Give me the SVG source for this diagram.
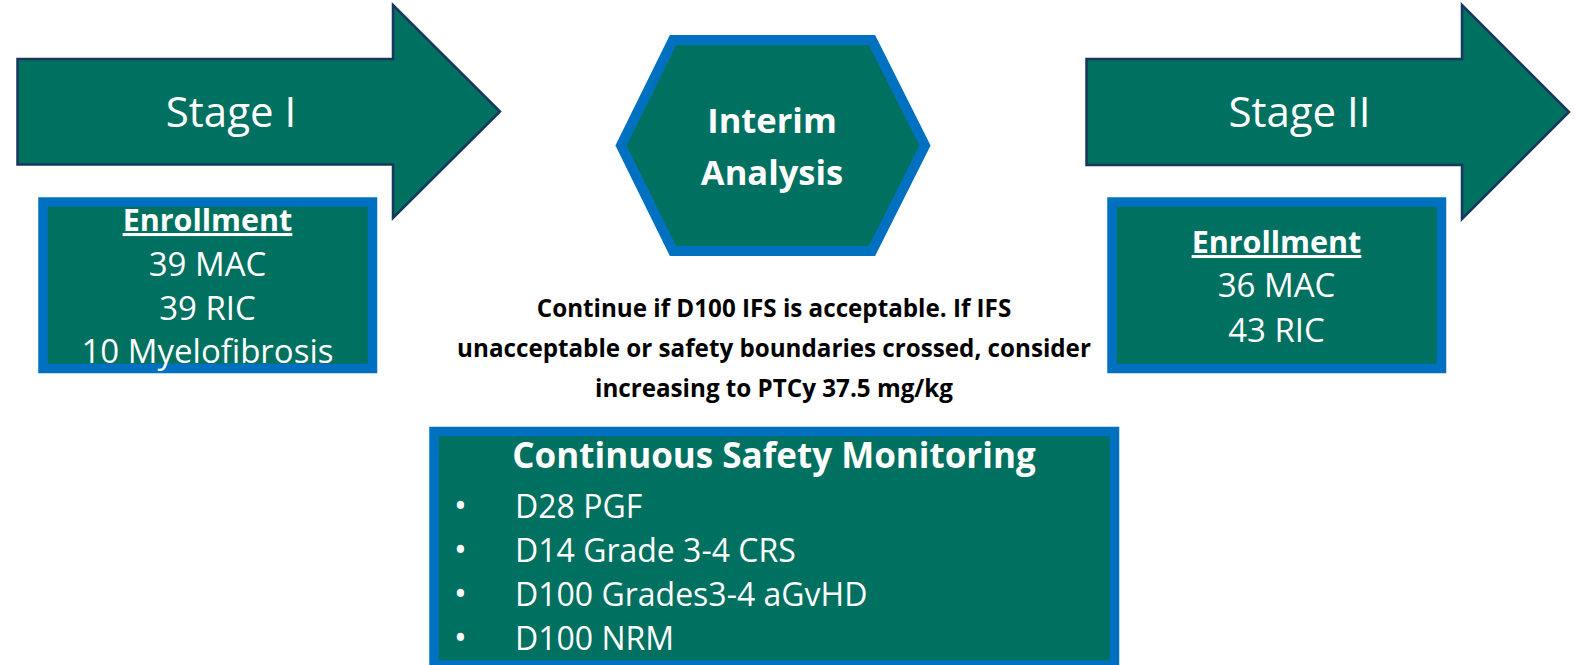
<svg xmlns="http://www.w3.org/2000/svg" width="1575" height="665" viewBox="0 0 1575 665">
<style>
.arrow{fill:#007060;stroke:#17375E;stroke-width:2.5;stroke-linejoin:miter}
.box{fill:#007060;stroke:#0070C0;stroke-width:9.5}
.hex{fill:#007060;stroke:#0070C0;stroke-width:10;stroke-linejoin:miter}
.t{font-family:"Open Sans","Liberation Sans",sans-serif;fill:#ffffff}
.b{font-weight:bold}
.c{text-anchor:middle}
.li{font-family:"Open Sans","Liberation Sans",sans-serif;fill:#ffffff;font-size:32px}
.bul{font-size:34px}
.note{font-family:"Open Sans","Liberation Sans",sans-serif;font-weight:bold;font-size:24.2px;fill:#000000;text-anchor:middle}
</style>
<rect x="0" y="0" width="1575" height="665" fill="#ffffff"/>
<g id="stage1">
<path class="arrow" d="M17.5,59 L393,59 L393,5 L500,111.5 L393,218 L393,164.5 L17.5,164.5 Z"/>
<text class="t c" x="231" y="127" font-size="42">Stage I</text>
</g>
<g id="enroll1">
<rect class="box" x="43" y="202" width="329.5" height="166.5"/>
<text class="t b c" x="207.5" y="231" font-size="30.5" text-decoration="underline">Enrollment</text>
<text class="t c" x="207.5" y="276" font-size="33">39 MAC</text>
<text class="t c" x="207.5" y="320" font-size="33">39 RIC</text>
<text class="t c" x="207.5" y="363" font-size="33">10 Myelofibrosis</text>
</g>
<g id="interim">
<path class="hex" d="M673,40 L872,40 L925,145.5 L872,251 L673,251 L621,145.5 Z"/>
<text class="t b c" x="772" y="133" font-size="34.5">Interim</text>
<text class="t b c" x="772" y="185" font-size="34.5">Analysis</text>
</g>
<g id="stage2">
<path class="arrow" d="M1086.5,59 L1462,59 L1462,5 L1569,112 L1462,219 L1462,165 L1086.5,165 Z"/>
<text class="t c" x="1299.5" y="127" font-size="42">Stage II</text>
</g>
<g id="enroll2">
<rect class="box" x="1112" y="202" width="329.5" height="166.5"/>
<text class="t b c" x="1276.5" y="253" font-size="30.5" text-decoration="underline">Enrollment</text>
<text class="t c" x="1276.5" y="297" font-size="33">36 MAC</text>
<text class="t c" x="1276.5" y="342" font-size="33">43 RIC</text>
</g>
<g id="decision">
<text class="note" x="774" y="317">Continue if D100 IFS is acceptable. If IFS</text>
<text class="note" x="774" y="357">unacceptable or safety boundaries crossed, consider</text>
<text class="note" x="774" y="397">increasing to PTCy 37.5 mg/kg</text>
</g>
<g id="safety">
<rect class="box" x="434" y="431.5" width="680.5" height="233.5"/>
<text class="t b c" x="774" y="468" font-size="35">Continuous Safety Monitoring</text>
<text class="li" y="518"><tspan class="bul" x="454">•</tspan><tspan x="515">D28 PGF</tspan></text>
<text class="li" y="562"><tspan class="bul" x="454">•</tspan><tspan x="515">D14 Grade 3-4 CRS</tspan></text>
<text class="li" y="606"><tspan class="bul" x="454">•</tspan><tspan x="515">D100 Grades3-4 aGvHD</tspan></text>
<text class="li" y="650"><tspan class="bul" x="454">•</tspan><tspan x="515">D100 NRM</tspan></text>
</g>
<g id="connectors"></g>
</svg>
